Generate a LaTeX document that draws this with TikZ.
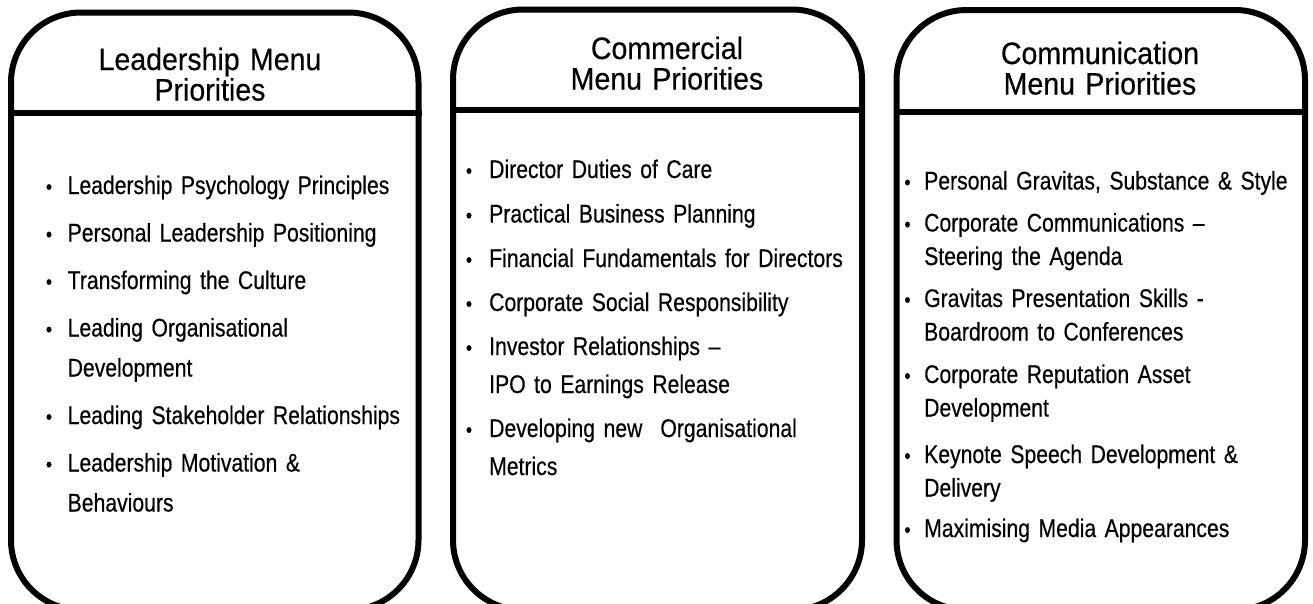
\documentclass[tikz,border=0pt]{standalone}
\usepackage{fontspec}
\setmainfont{Liberation Sans}
\newfontfamily\bodyfont[FakeStretch=0.83,FakeBold=0.4,WordSpace=0.6]{Liberation Sans}
\newfontfamily\headfont[FakeStretch=0.92,FakeBold=0.4,WordSpace=0.8]{Liberation Sans}
\begin{document}
\begin{tikzpicture}[x=1pt,y=-1pt,
  menubox/.style={draw, line width=6pt, rounded corners=70pt, inner sep=0pt},
  divider/.style={line width=6pt},
  headtext/.style={anchor=base, inner sep=0pt, text width=400pt, align=center,
    font=\headfont\fontsize{31}{30.5}\selectfont},
  itemtext/.style={anchor=base west, inner sep=0pt, text width=390pt, align=left},
  bul/.style={anchor=base, inner sep=0pt, font=\bodyfont\fontsize{21}{30}\selectfont},
  fa/.style={font=\bodyfont\fontsize{25.5}{40}\selectfont},
  fb/.style={font=\bodyfont\fontsize{25.5}{38}\selectfont},
  fc/.style={font=\bodyfont\fontsize{25.5}{33.5}\selectfont}]
\useasboundingbox (0,0) rectangle (1313,603);
\clip (0,0) rectangle (1313,603);
\fill[white] (0,0) rectangle (1313,603);

% boxes
\node[menubox, minimum width=407.5pt, minimum height=597.5pt] (b1) at (214.75,311.25) {};
\node[menubox, minimum width=409pt, minimum height=600.5pt] (b2) at (657.5,309.75) {};
\node[menubox, minimum width=408.5pt, minimum height=600pt] (b3) at (1100.75,310) {};
\draw[divider] (b1.west |- 0,113) -- (b1.east |- 0,113);
\draw[divider] (b2.west |- 0,110) -- (b2.east |- 0,110);
\draw[divider] (b3.west |- 0,111.5) -- (b3.east |- 0,111.5);

% titles
\node[headtext] (t1) at (210,70) {Leadership Menu\\Priorities};
\node[headtext] (t2) at (667,59) {Commercial\\Menu Priorities};
\node[headtext] (t3) at (1100,64) {Communication\\Menu Priorities};

% box 1 items
\foreach \y in {194,241.5,289,336.5,424,471.5} \node[bul] at (49,\y) {•};
\node[itemtext, fa] (a1) at (67.5,194) {Leadership Psychology Principles};
\node[itemtext, fa] (a2) at (67.5,241.5) {Personal Leadership Positioning};
\node[itemtext, fa] (a3) at (67.5,289) {Transforming the Culture};
\node[itemtext, fa] (a4) at (67.5,336.5) {Leading Organisational\\Development};
\node[itemtext, fa] (a5) at (67.5,424) {Leading Stakeholder Relationships};
\node[itemtext, fa] (a6) at (67.5,471.5) {Leadership Motivation \&\\Behaviours};

% box 2 items
\foreach \y in {178,222.5,267,311,355,437} \node[bul] at (469,\y) {•};
\node[itemtext, fb] (c1) at (489,178) {Director Duties of Care};
\node[itemtext, fb] (c2) at (489,222.5) {Practical Business Planning};
\node[itemtext, fb] (c3) at (489,267) {Financial Fundamentals for Directors};
\node[itemtext, fb] (c4) at (489,311) {Corporate Social Responsibility};
\node[itemtext, fb] (c5) at (489,355) {Investor Relationships –\\IPO to Earnings Release};
\node[itemtext, fb] (c6) at (489,437) {Developing new\hspace{18pt}Organisational\\Metrics};

% box 3 items
\foreach \y in {189.5,231.5,307,383,463,537} \node[bul] at (907.5,\y) {•};
\node[itemtext, fc] (m1) at (924,189.5) {Personal Gravitas, Substance \& Style};
\node[itemtext, fc] (m2) at (924,231.5) {Corporate Communications –\\Steering the Agenda};
\node[itemtext, fc] (m3) at (924,307) {Gravitas Presentation Skills -\\Boardroom to Conferences};
\node[itemtext, fc] (m4) at (924,383) {Corporate Reputation Asset\\Development};
\node[itemtext, fc] (m5) at (924,463) {Keynote Speech Development \&\\Delivery};
\node[itemtext, fc] (m6) at (924,537) {Maximising Media Appearances};
\end{tikzpicture}
\end{document}
